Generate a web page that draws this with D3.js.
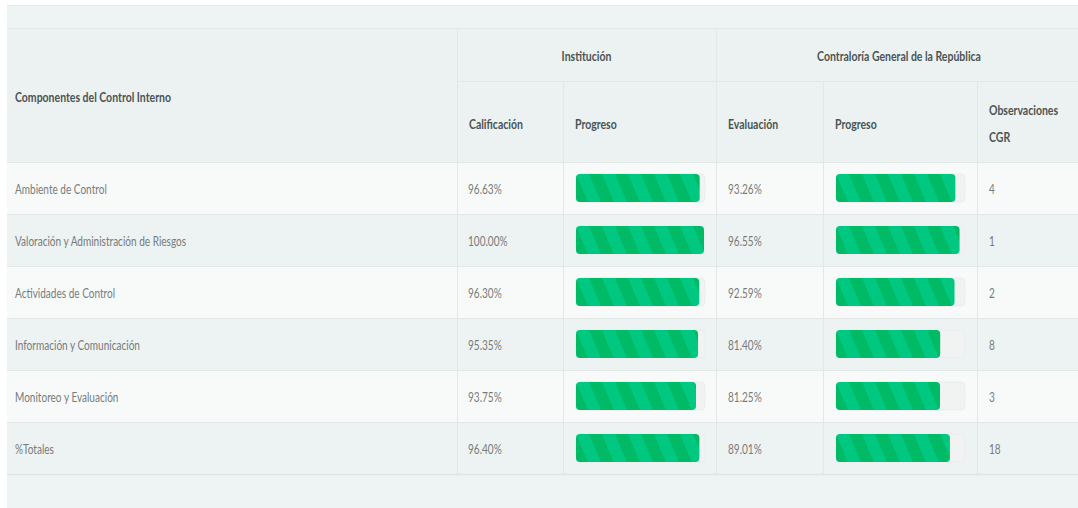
<!DOCTYPE html>
<html>
<head>
<meta charset="utf-8">
<script src="https://cdn.jsdelivr.net/npm/d3@7"></script>
<style>
  body { margin: 0; background: #fff; }
  svg { display: block; font-family: Lato, "Noto Sans", sans-serif; }
</style>
</head>
<body>
<script>
// datos
var componentes = ["Ambiente de Control", "Valoración y Administración de Riesgos", "Actividades de Control",
    "Información y Comunicación", "Monitoreo y Evaluación", "%Totales"];
var calificacion = [96.63, 100.00, 96.30, 95.35, 93.75, 96.40];
var evaluacion = [93.26, 96.55, 92.59, 81.40, 81.25, 89.01];
var observaciones = [4, 1, 2, 8, 3, 18];
var grupos = ["Institución", "Contraloría General de la República"];
var subcolumnas = ["Calificación", "Progreso", "Evaluación", "Progreso"];

var width = 1078, height = 508;
var colX = [7, 457, 563, 716, 823, 977, 1078];
var sx = 0.75; // texto condensado

var svg = d3.select("body").append("svg")
    .attr("width", width)
    .attr("height", height);

var defs = svg.append("defs");
var pat = defs.append("pattern")
    .attr("id", "stripes")
    .attr("patternUnits", "userSpaceOnUse")
    .attr("width", 26)
    .attr("height", 30)
    .attr("patternTransform", "skewX(23)");
pat.append("rect").attr("width", 26).attr("height", 30).attr("fill", "#00ba66");
pat.append("rect").attr("width", 13).attr("height", 30).attr("fill", "#00c880");

// fondo
svg.append("rect")
    .attr("x", 7).attr("y", 5)
    .attr("width", width - 7).attr("height", height - 5)
    .attr("fill", "#eef3f3");

var y = d3.scaleBand().domain(componentes).range([162, 474]);
var x = d3.scaleLinear().domain([0, 100]).range([0, 128]);

function label(g, txt, px, py, anchor) {
    return g.append("text")
        .attr("transform", "translate(" + px + "," + py + ") scale(" + sx + ",1)")
        .attr("text-anchor", anchor || "start")
        .attr("dy", "0.35em")
        .text(txt);
}

var head = svg.append("g");
head.append("rect")
    .attr("x", 7).attr("y", 28)
    .attr("width", width - 7).attr("height", 134)
    .attr("fill", "#ecf1f1");

// filas
var rows = svg.append("g").selectAll("g")
    .data(componentes)
    .enter().append("g")
    .attr("transform", function(d) { return "translate(0," + y(d) + ")"; });

rows.append("rect")
    .attr("x", 7)
    .attr("width", width - 7)
    .attr("height", y.bandwidth())
    .attr("fill", function(d, i) { return i % 2 ? "#edf2f2" : "#f8fafa"; });

// lineas
var lines = svg.append("g").attr("stroke", "#e2e8e8").attr("stroke-width", 1);
lines.append("line").attr("x1", 7).attr("x2", width).attr("y1", 28.5).attr("y2", 28.5);
lines.append("line").attr("x1", colX[1]).attr("x2", width).attr("y1", 81.5).attr("y2", 81.5);
componentes.forEach(function(d) {
    lines.append("line").attr("x1", 7).attr("x2", width)
        .attr("y1", Math.round(y(d)) + 0.5).attr("y2", Math.round(y(d)) + 0.5);
});
lines.append("line").attr("x1", 7).attr("x2", width).attr("y1", 474.5).attr("y2", 474.5)
    .attr("stroke", "#dfe5e5").attr("stroke-width", 1.5);
[1, 3].forEach(function(c) {
    lines.append("line").attr("x1", colX[c] + 0.5).attr("x2", colX[c] + 0.5).attr("y1", 28).attr("y2", 474);
});
[2, 4, 5].forEach(function(c) {
    lines.append("line").attr("x1", colX[c] + 0.5).attr("x2", colX[c] + 0.5).attr("y1", 81).attr("y2", 474);
});

// textos de cabecera
var ht = svg.append("g")
    .attr("fill", "#4b5454")
    .attr("font-size", 14)
    .attr("font-weight", 700);
label(ht, "Componentes del Control Interno", 15, 97);
label(ht, grupos[0], (colX[1] + colX[3]) / 2, 56, "middle");
label(ht, grupos[1], (colX[3] + colX[6]) / 2 + 2, 56, "middle");
subcolumnas.forEach(function(s, i) {
    label(ht, s, colX[i + 1] + 12, 124);
});
label(ht, "Observaciones", colX[5] + 12, 110);
label(ht, "CGR", colX[5] + 12, 137);

// textos de filas
var dt = rows.append("g")
    .attr("fill", "#767c7c")
    .attr("font-size", 13.4);
dt.each(function(d, i) {
    var g = d3.select(this), cy = y.bandwidth() / 2 + 1;
    label(g, d, 15, cy);
    label(g, calificacion[i].toFixed(2) + "%", colX[1] + 11, cy);
    label(g, evaluacion[i].toFixed(2) + "%", colX[3] + 12, cy);
    label(g, observaciones[i], colX[5] + 12, cy);
});

// barras de progreso
function bar(sel, col, values) {
    var g = sel.append("g")
        .attr("transform", "translate(" + (colX[col] + 13) + "," + (y.bandwidth() / 2 - 14) + ")");
    g.append("rect")
        .attr("width", x(100) + 1).attr("height", 28)
        .attr("rx", 4)
        .attr("fill", "#f1f3f3")
        .attr("stroke", "#e9eded");
    g.append("rect")
        .attr("width", function(d, i) { return x(values[i]); })
        .attr("height", 28)
        .attr("rx", 4)
        .attr("fill", "url(#stripes)");
}
bar(rows, 2, calificacion);
bar(rows, 4, evaluacion);

// borde superior blanco
svg.append("line").attr("x1", 7).attr("x2", width).attr("y1", 5.5).attr("y2", 5.5)
    .attr("stroke", "#e6eaea");
</script>
</body>
</html>
